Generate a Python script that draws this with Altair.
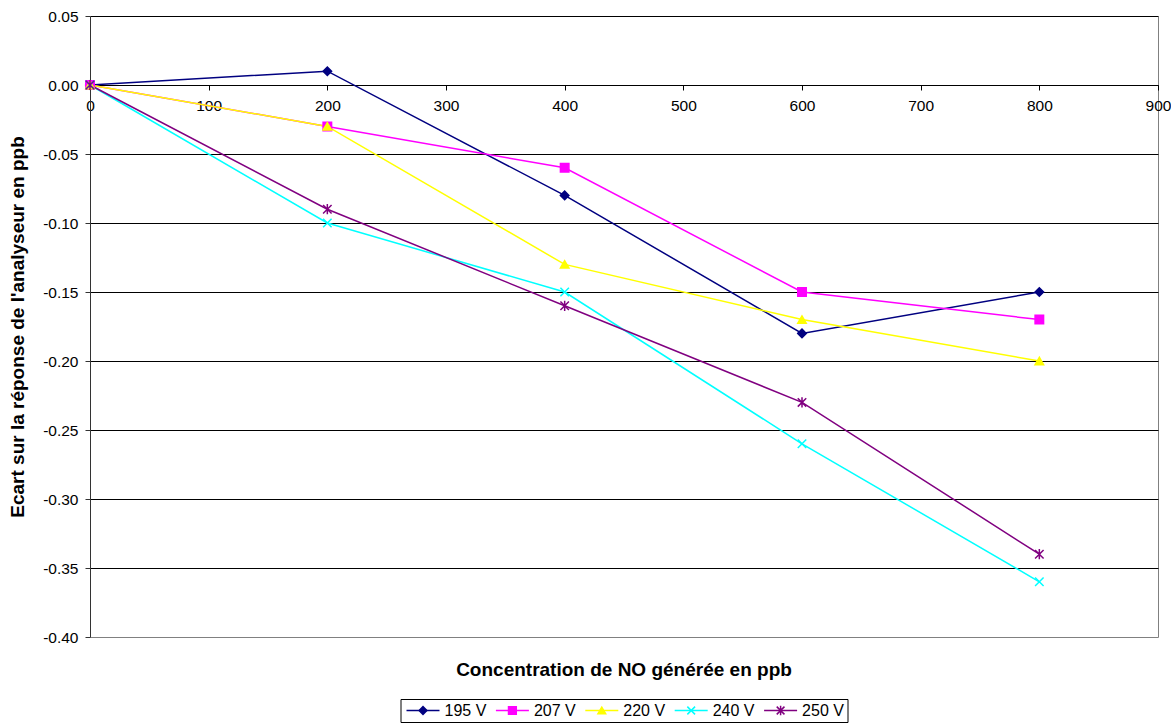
import altair as alt
import pandas as pd

# ---- data ----
series = ["195 V", "207 V", "220 V", "240 V", "250 V"]
conc = [0, 200, 400, 600, 800]
v195 = [0.00, 0.01, -0.08, -0.18, -0.15]
v207 = [0.00, -0.03, -0.06, -0.15, -0.17]
v220 = [0.00, -0.03, -0.13, -0.17, -0.20]
v240 = [0.00, -0.10, -0.15, -0.26, -0.36]
v250 = [0.00, -0.09, -0.16, -0.23, -0.34]
values = [v195, v207, v220, v240, v250]

colors = ["#000080", "#FF00FF", "#FFFF00", "#00FFFF", "#800080"]
shapes = ["diamond", "square", "triangle-up",
          "M-1,-1L1,1M-1,1L1,-1",
          "M-1,-1L1,1M-1,1L1,-1M0,-1.2L0,1.2"]

x_ticks = [0, 100, 200, 300, 400, 500, 600, 700, 800, 900]
y_ticks = [-0.40, -0.35, -0.30, -0.25, -0.20, -0.15, -0.10, -0.05, 0.00, 0.05]

x_title = "Concentration de NO générée en ppb"
y_title = "Ecart sur la réponse de l'analyseur en ppb"

rows = []
for s, vals in zip(series, values):
    for c, v in zip(conc, vals):
        rows.append({"series": s, "conc": c, "val": v})
df = pd.DataFrame(rows)
legend_df = pd.DataFrame({"series": series, "idx": list(range(len(series)))})

FONT = "Liberation Sans"
W, H = 1068, 621

color_scale = alt.Scale(domain=series, range=colors)
shape_scale = alt.Scale(domain=series, range=shapes)

x_enc = alt.X(
    "conc:Q",
    scale=alt.Scale(domain=[0, 900], nice=False),
    axis=alt.Axis(
        values=x_ticks, title=None, offset=-552, labelFlush=False,
        domainColor="black", domainWidth=1, tickColor="black", tickSize=5,
        labelPadding=8, labelFontSize=15.5, labelColor="black",
        grid=True,
        gridColor=alt.condition("datum.value == 900", alt.value("#808080"), alt.value("transparent")),
        gridOpacity=1,
    ),
)
y_enc = alt.Y(
    "val:Q",
    scale=alt.Scale(domain=[-0.40, 0.05], nice=False, zero=False),
    axis=alt.Axis(
        values=y_ticks, format=".2f",
        labelExpr="replace(datum.label, '\u2212', '-')",
        title=y_title, titleFontSize=19, titleFontWeight="bold", titleColor="black",
        titlePadding=15,
        labelFontSize=15.5, labelPadding=7, labelColor="black",
        tickSize=5, domainColor="#333333", tickColor="#333333",
        grid=True,
        gridColor=alt.condition("datum.value < -0.39", alt.value("#808080"), alt.value("black")),
        gridOpacity=1,
    ),
)

base = alt.Chart(df).encode(x=x_enc, y=y_enc)
lines = base.mark_line(strokeWidth=1.5).encode(
    color=alt.Color("series:N", scale=color_scale, legend=None),
    detail="series:N",
)
points = base.mark_point(filled=True, size=72, strokeWidth=1.5, opacity=1).encode(
    color=alt.Color("series:N", scale=color_scale, legend=None),
    stroke=alt.Stroke("series:N", scale=color_scale, legend=None),
    shape=alt.Shape("series:N", scale=shape_scale, legend=None),
)
main = alt.layer(lines, points).properties(
    width=W, height=H, view=alt.ViewBackground(strokeWidth=0)
)

# ---- boxed legend with the axis title above it ----
lbase = alt.Chart(legend_df).encode(
    x=alt.X("idx:Q", scale=alt.Scale(domain=[0, 5], nice=False, zero=False), axis=None)
)
lrule = lbase.mark_rule(strokeWidth=1.5, xOffset=6, x2Offset=39).encode(
    x2="idx:Q",
    y=alt.value(11.5),
    color=alt.Color("series:N", scale=color_scale, legend=None),
)
lpoint = lbase.mark_point(filled=True, size=60, strokeWidth=1.5, opacity=1, xOffset=22.5).encode(
    y=alt.value(11.5),
    color=alt.Color("series:N", scale=color_scale, legend=None),
    stroke=alt.Stroke("series:N", scale=color_scale, legend=None),
    shape=alt.Shape("series:N", scale=shape_scale, legend=None),
)
ltext = lbase.mark_text(align="left", baseline="middle", xOffset=44, fontSize=16, color="black").encode(
    y=alt.value(12),
    text="series:N",
)
legend = alt.layer(lrule, lpoint, ltext).properties(
    width=447, height=23,
    view=alt.ViewBackground(stroke="black", strokeWidth=1),
    title=alt.TitleParams(
        text=x_title, fontSize=19, fontWeight="bold", anchor="middle",
        baseline="alphabetic", offset=4, color="black",
    ),
)

chart = alt.vconcat(main, legend, spacing=62, center=True, bounds="flush").properties(
    padding={"left": 8, "top": 9, "right": 0, "bottom": 0}
).configure(font=FONT).configure_view(stroke="transparent")

chart.save("out.html", embed_options={"renderer": "svg", "actions": False})
